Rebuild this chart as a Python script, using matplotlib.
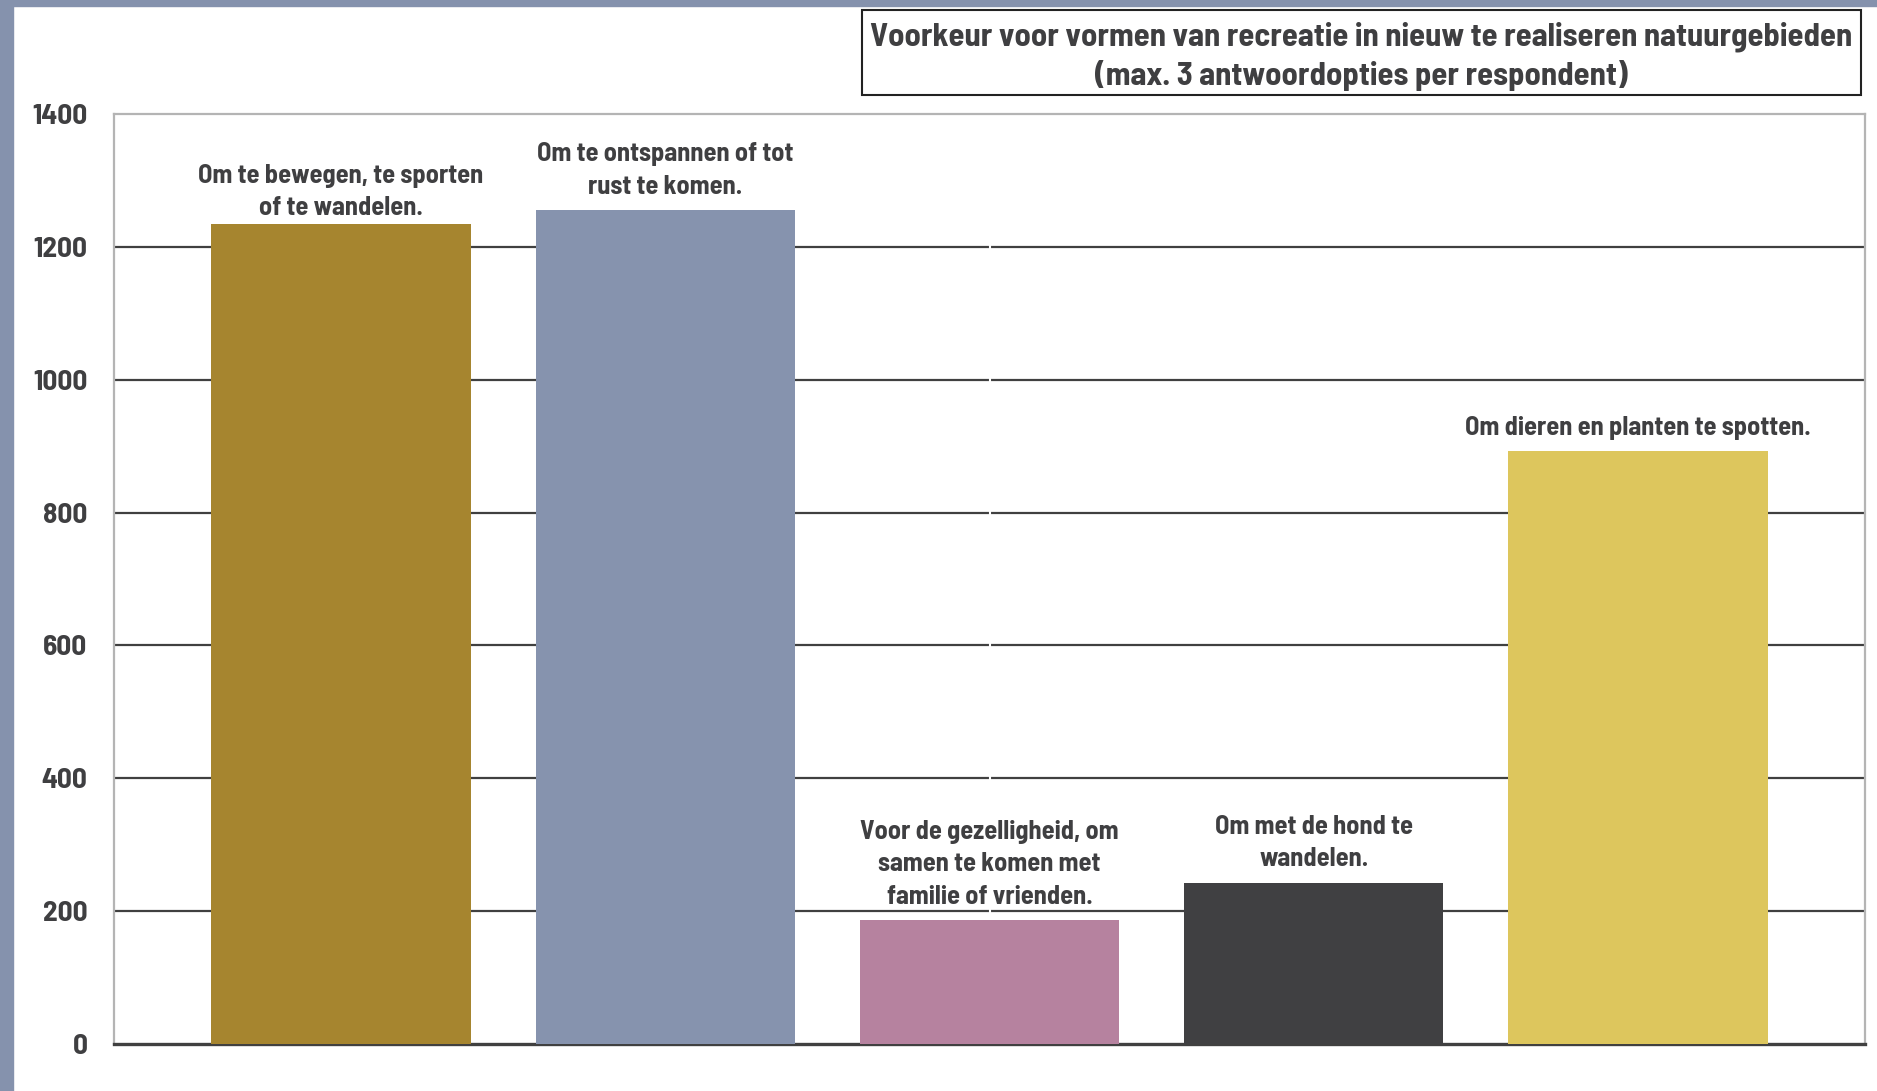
import matplotlib
matplotlib.use('Agg')
import matplotlib.pyplot as plt
from matplotlib.patches import Rectangle

# data
categories = [
    'Om te bewegen, te sporten\nof te wandelen.',
    'Om te ontspannen of tot\nrust te komen.',
    'Voor de gezelligheid, om\nsamen te komen met\nfamilie of vrienden.',
    'Om met de hond te\nwandelen.',
    'Om dieren en planten te spotten.',
]
values = [1234, 1256, 187, 243, 892]
colors = ['#A6852F', '#8693AE', '#B6829F', '#404042', '#DDC65D']
y_ticks = [0, 200, 400, 600, 800, 1000, 1200, 1400]
title = ('Voorkeur voor vormen van recreatie in nieuw te realiseren natuurgebieden\n'
         '(max. 3 antwoordopties per respondent)')

plt.rcParams['font.family'] = ['Barlow Semi Condensed', 'DejaVu Sans']
text_col = '#3F3F41'

W, H = 1877, 1091
fig = plt.figure(figsize=(W / 100, H / 100), dpi=100)

# blue frame on the left and top edge
fig.patches.append(Rectangle((0, 0), 13 / W, 1, transform=fig.transFigure,
                             color='#8592AD', zorder=0))
fig.patches.append(Rectangle((0, 1 - 6 / H), 1, 6 / H, transform=fig.transFigure,
                             color='#8592AD', zorder=0))

ax = fig.add_axes([114 / W, 47 / H, (1865 - 114) / W, (1044 - 114) / H])
x = list(range(len(values)))
ax.bar(x, values, width=0.8, color=colors, zorder=3)
ax.set_xlim(-0.7, len(values) - 0.3)
ax.set_ylim(0, 1400)

for v in y_ticks[1:-1]:
    ax.axhline(v, color='#404040', lw=1.6, zorder=1)
ax.axvline(2, color='white', lw=1.5, zorder=2)

ax.set_yticks(y_ticks)
ax.set_yticklabels([str(t) for t in y_ticks], fontsize=21, color=text_col,
                   fontweight='bold')
ax.tick_params(axis='y', length=0, pad=19)
ax.set_xticks([])

for s in ['left', 'top', 'right']:
    ax.spines[s].set_color('#B4B4B4')
    ax.spines[s].set_linewidth(1.6)
ax.spines['bottom'].set_color('#404040')
ax.spines['bottom'].set_linewidth(2.4)

# first label sits a bit closer to its bar in the original
label_pad = [3, 8, 8, 8, 8]
for xi, v, lab, pad in zip(x, values, categories, label_pad):
    ax.annotate(lab, (xi, v), xytext=(0, pad), textcoords='offset points',
                ha='center', va='bottom', fontsize=19, color=text_col,
                fontweight='bold', linespacing=1.43)

# title box
bx0, by0, bx1, by1 = 862, 10, 1861, 95
fig.patches.append(Rectangle((bx0 / W, 1 - by1 / H), (bx1 - bx0) / W, (by1 - by0) / H,
                             transform=fig.transFigure, facecolor='white',
                             edgecolor='#222222', lw=1.5, zorder=1))
fig.text((bx0 + bx1) / 2 / W, 1 - ((by0 + by1) / 2 + 4) / H, title, ha='center',
         va='center', fontsize=23.5, color=text_col, fontweight='bold', linespacing=1.3)

fig.savefig('out.png', dpi=100)
